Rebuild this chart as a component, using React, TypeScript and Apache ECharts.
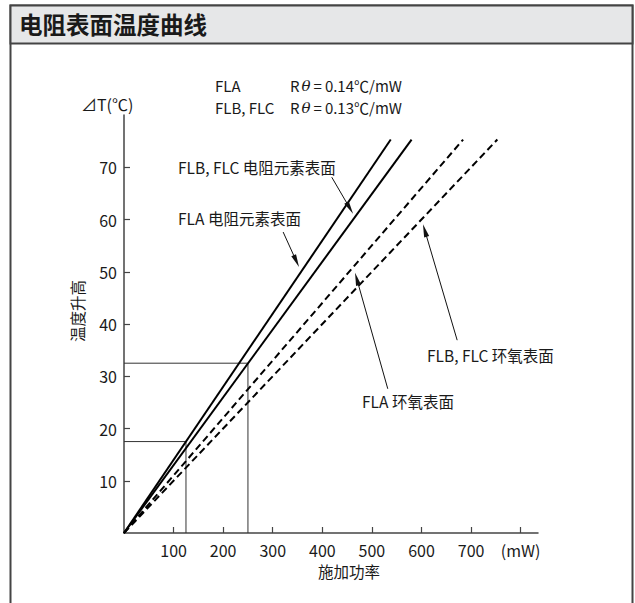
import React, { useEffect, useRef } from "react";
import * as echarts from "echarts";

// ---- data ----
const xTicks = [100, 200, 300, 400, 500, 600, 700, 800];
const xTickLabels = ["100", "200", "300", "400", "500", "600", "700", "(mW)"];
const yTicks = [10, 20, 30, 40, 50, 60, 70];

// end points of the four characteristic lines (power mW, temperature rise ℃)
const lineNames = ["FLA 电阻元素表面", "FLB, FLC 电阻元素表面", "FLA 环氧表面", "FLB, FLC 环氧表面"];
const lineEndPower = [538, 580, 684, 753];
const lineEndTemp = [75.3, 75.3, 75.3, 75.3];
const lineDashed = [false, false, true, true];

// reading guides (power, temperature)
const guidePower = [125, 250];
const guideTemp = [17.5, 32.5];

// annotation arrows: [fromPower, fromTemp, toPower, toTemp]
const arrowData = [
  [419, 68.1, 462, 61.1],
  [321, 57.6, 353, 50.9],
  [532, 27.6, 466, 49.8],
  [672, 36.9, 603, 59.1],
];

const FONT = '"Noto Sans CJK SC", "Noto Sans", sans-serif';
const FS = 15.5;

export default function App() {
  const ref = useRef<HTMLDivElement>(null);
  useEffect(() => {
    if (!ref.current) return;
    const chart = echarts.init(ref.current, null, { renderer: "svg" });

    const lineSeries: any[] = lineNames.map((name, i) => ({
      name,
      type: "line",
      data: [
        [0, 0],
        [lineEndPower[i], lineEndTemp[i]],
      ],
      symbol: "none",
      silent: true,
      lineStyle: {
        color: "#000",
        width: 2,
        type: lineDashed[i] ? [7, 4] : "solid",
      },
      z: 3,
    }));

    const guideSeries: any[] = guidePower.map((p, i) => ({
      type: "line",
      data: [
        [0, guideTemp[i]],
        [p, guideTemp[i]],
        [p, 0],
      ],
      symbol: "none",
      silent: true,
      lineStyle: { color: "#333", width: 1 },
      z: 2,
    }));

    const arrowSeries = {
      type: "custom",
      data: arrowData,
      encode: { x: [0, 2], y: [1, 3] },
      silent: true,
      clip: false,
      z: 4,
      renderItem: (params: any, api: any) => {
        const s = api.coord([api.value(0), api.value(1)]);
        const e = api.coord([api.value(2), api.value(3)]);
        const dx = e[0] - s[0];
        const dy = e[1] - s[1];
        const len = Math.hypot(dx, dy);
        const ux = dx / len;
        const uy = dy / len;
        const L = 13;
        const W = 2.6;
        const bx = e[0] - ux * L;
        const by = e[1] - uy * L;
        return {
          type: "group",
          children: [
            {
              type: "line",
              shape: { x1: s[0], y1: s[1], x2: bx + ux * 2, y2: by + uy * 2 },
              style: { stroke: "#111", lineWidth: 1 },
            },
            {
              type: "polygon",
              shape: {
                points: [
                  [e[0], e[1]],
                  [bx - uy * W, by + ux * W],
                  [bx + uy * W, by - ux * W],
                ],
              },
              style: { fill: "#111" },
            },
          ],
        };
      },
    };

    const txt = (x: number, y: number, text: string, extra: any = {}) => ({
      type: "text",
      x,
      y,
      silent: true,
      style: {
        text,
        font: `${FS}px ${FONT}`,
        fill: "#1a1a1a",
        verticalAlign: "middle",
        align: "left",
        ...extra,
      },
      z: 10,
    });

    const rth = (x: number, y: number, val: string) => ({
      type: "text",
      x,
      y,
      silent: true,
      style: {
        text: `{n|R}{i|θ}{e|=}{n|${val}℃/mW}`,
        verticalAlign: "middle",
        align: "left",
        lineHeight: 16,
        rich: {
          n: { fontSize: 15, lineHeight: 16, fontFamily: FONT, fill: "#1a1a1a" },
          e: { fontSize: 15, lineHeight: 16, fontFamily: FONT, fill: "#1a1a1a", padding: [0, 3, 0, 1] },
          i: { fontSize: 15, lineHeight: 16, fontFamily: '"DejaVu Serif", serif', fontStyle: "italic", fill: "#1a1a1a", padding: [0, 2, 0, 2] },
        },
      },
      z: 10,
    });

    chart.setOption({
      animation: false,
      backgroundColor: "#fff",
      title: {
        text: "电阻表面温度曲线",
        left: 14,
        top: 7,
        textStyle: { fontSize: 23.5, fontWeight: "bold", fontFamily: FONT, color: "#1a1a1a" },
      },
      grid: { left: 124, top: 115, width: 414, height: 418, containLabel: false },
      xAxis: {
        type: "value",
        min: 0,
        max: 835,
        interval: 100,
        splitLine: { show: false },
        axisLine: { show: true, lineStyle: { color: "#444", width: 1.5 } },
        axisTick: {
          show: true,
          inside: true,
          length: 6,
          customValues: xTicks,
          lineStyle: { color: "#444", width: 1.2 },
        },
        axisLabel: {
          customValues: xTicks,
          margin: 9,
          fontSize: 16,
          fontFamily: FONT,
          color: "#1a1a1a",
          formatter: (v: number) => {
            const i = xTicks.indexOf(v);
            return i >= 0 ? xTickLabels[i] : "";
          },
        },
      },
      yAxis: {
        type: "value",
        min: 0,
        max: 80,
        interval: 10,
        splitLine: { show: false },
        axisLine: { show: true, lineStyle: { color: "#444", width: 1.5 } },
        axisTick: {
          show: true,
          inside: true,
          length: 6,
          customValues: yTicks,
          lineStyle: { color: "#444", width: 1.2 },
        },
        axisLabel: {
          customValues: yTicks,
          margin: 7,
          fontSize: 16,
          fontFamily: FONT,
          color: "#1a1a1a",
        },
      },
      graphic: [
        {
          type: "rect",
          shape: { x: 10.5, y: 5.5, width: 622, height: 620 },
          style: { fill: "none", stroke: "#444", lineWidth: 2 },
          silent: true,
          z: 0,
        },
        {
          type: "rect",
          shape: { x: 10.5, y: 5.5, width: 622, height: 38 },
          style: { fill: "#e6e7e8", stroke: "#444", lineWidth: 2 },
          silent: true,
          z: 0,
        },
        txt(215, 85.5, "FLA", { font: `15px ${FONT}`, lineHeight: 16 }),
        txt(215, 107.5, "FLB, FLC", { font: `15px ${FONT}`, lineHeight: 16 }),
        rth(290, 85.5, "0.14"),
        rth(290, 107.5, "0.13"),
        txt(81, 104, "⊿T(℃)", { font: `16px ${FONT}`, lineHeight: 17 }),
        {
          type: "text",
          x: 77,
          y: 311,
          rotation: Math.PI / 2,
          silent: true,
          style: {
            text: "温度升高",
            font: `${FS}px ${FONT}`,
            fill: "#1a1a1a",
            align: "center",
            verticalAlign: "middle",
          },
        },
        txt(349, 571, "施加功率", { align: "center" }),
        txt(178, 167, "FLB, FLC 电阻元素表面"),
        txt(178, 218, "FLA 电阻元素表面"),
        txt(427, 355, "FLB, FLC 环氧表面"),
        txt(362, 401, "FLA 环氧表面"),
      ],
      series: [...guideSeries, ...lineSeries, arrowSeries],
    });

    return () => chart.dispose();
  }, []);

  return (
    <div
      ref={ref}
      style={{ position: "absolute", left: 0, top: 0, width: 635, height: 603 }}
    />
  );
}
